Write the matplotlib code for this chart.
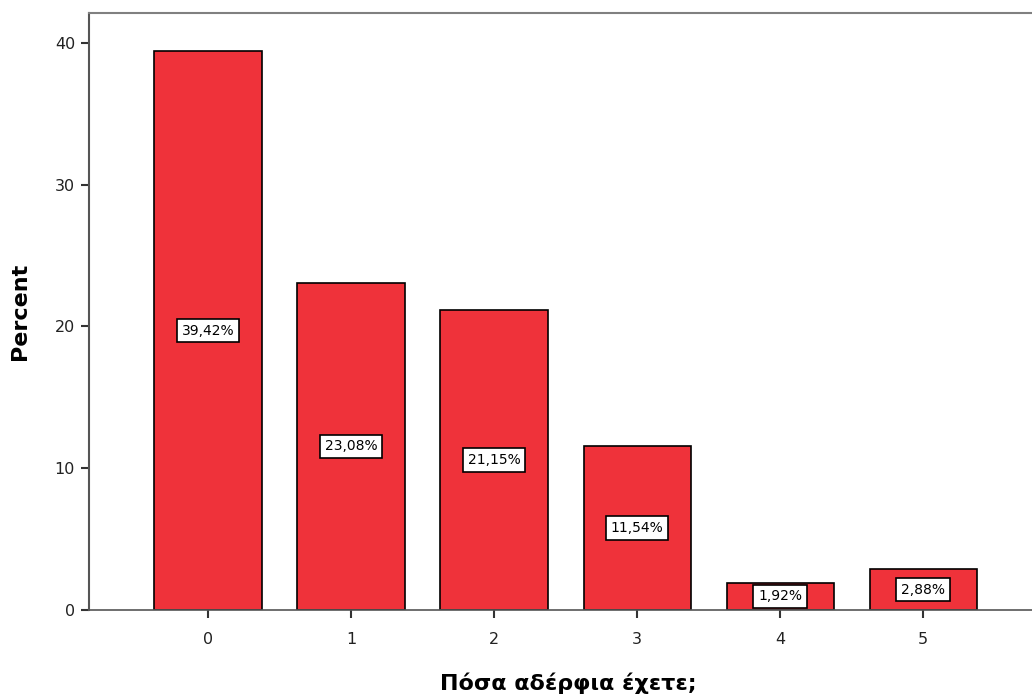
import numpy as np
import matplotlib.pyplot as plt

plt.rcParams['font.family'] = ['DejaVu Sans']

# Κατηγορίες και ποσοστά
categories = ['0', '1', '2', '3', '4', '5']
percents = [39.42, 23.08, 21.15, 11.54, 1.92, 2.88]
labels = ['39,42%', '23,08%', '21,15%', '11,54%', '1,92%', '2,88%']

fig = plt.figure(figsize=(10.32, 6.97), dpi=100)
ax = fig.add_axes([0.0862, 0.1248, 0.9138, 0.8565])

x = np.arange(len(categories))
ax.bar(x, percents, width=0.75, color='#EF323A', edgecolor='black', linewidth=1.2, zorder=2)

for xi, p, lab in zip(x, percents, labels):
    ax.text(xi, p / 2, lab, ha='center', va='center', fontsize=10,
            bbox=dict(boxstyle='square,pad=0.35', facecolor='white', edgecolor='black', linewidth=1.2),
            zorder=3)

ax.set_xlim(-0.832, 5.76)
ax.set_ylim(0, 42.1)
ax.set_xticks(x)
ax.set_xticklabels(categories)
ax.set_yticks([0, 10, 20, 30, 40])

ax.spines['right'].set_visible(False)
ax.spines['top'].set_color('#808080')
ax.spines['top'].set_linewidth(1.5)
ax.spines['left'].set_color('#555555')
ax.spines['left'].set_linewidth(1.5)
ax.spines['bottom'].set_color('#555555')
ax.spines['bottom'].set_linewidth(1.2)
ax.tick_params(axis='both', labelsize=11.5, width=1.5, length=6, color='#333333', labelcolor='#222222')
ax.tick_params(axis='x', pad=10)
ax.tick_params(axis='y', pad=4)

ax.set_ylabel('Percent', fontsize=16, fontweight='bold')
ax.set_xlabel('Πόσα αδέρφια έχετε;', fontsize=16, fontweight='bold')
ax.yaxis.set_label_coords(-0.0626, 0.5)
ax.xaxis.set_label_coords(0.508, -0.104)

fig.savefig('out.png', dpi=100)
